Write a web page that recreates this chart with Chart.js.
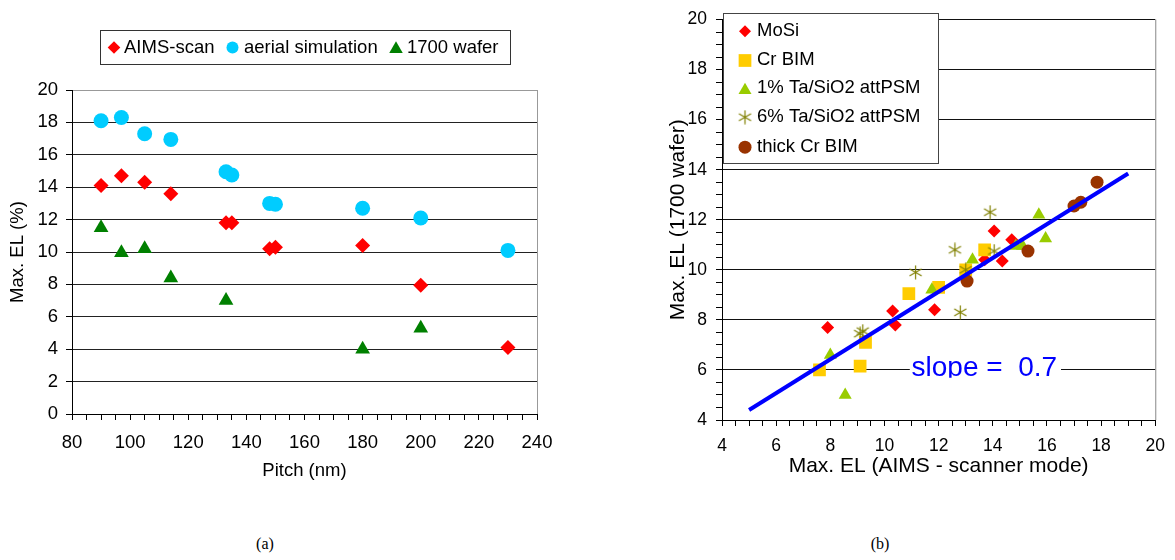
<!DOCTYPE html>
<html>
<head>
<meta charset="utf-8">
<script src="https://cdn.jsdelivr.net/npm/chart.js@4/dist/chart.umd.min.js"></script>
<style>
  body { margin: 0; background: #fff; width: 1175px; height: 560px; position: relative; overflow: hidden; }
  .wrap { position: absolute; top: 0; height: 490px; }
  #wa { left: 0; width: 580px; }
  #wb { left: 655px; width: 520px; }
  .cap { position: absolute; top: 535px; font: 16px "Liberation Serif", "Times New Roman", serif; transform: translateX(-50%); }
</style>
</head>
<body>
<div class="wrap" id="wa"><canvas id="chartA"></canvas></div>
<div class="wrap" id="wb"><canvas id="chartB"></canvas></div>
<div class="cap" style="left:265px">(a)</div>
<div class="cap" style="left:880px">(b)</div>
<script>
// (a) Max. EL vs pitch
const pitch = [90, 97, 105, 114, 133, 135, 148, 150, 180, 200, 230];
const aimsScan = [14.1, 14.7, 14.3, 13.6, 11.8, 11.8, 10.2, 10.3, 10.4, 7.95, 4.1];
const aerialSim = [18.1, 18.3, 17.3, 16.95, 14.95, 14.75, 13.0, 12.95, 12.7, 12.1, 10.1];
const waferPitch = [90, 97, 105, 114, 133, 180, 200];
const wafer1700 = [11.5, 9.95, 10.2, 8.4, 7.0, 4.0, 5.3];

// (b) wafer vs AIMS
const mosiX = [7.9, 10.3, 10.4, 11.85, 13.7, 14.05, 14.35, 14.7];
const mosiY = [7.7, 8.35, 7.8, 8.4, 10.4, 11.55, 10.35, 11.2];
const crBimX = [7.6, 9.1, 9.3, 10.9, 12.0, 13.0, 13.7];
const crBimY = [6.0, 6.15, 7.1, 9.05, 9.3, 10.0, 10.8];
const ta1X = [8.0, 8.55, 11.75, 13.25, 14.85, 15.1, 15.7, 15.95];
const ta1Y = [6.6, 5.0, 9.2, 10.4, 10.95, 10.95, 12.2, 11.25];
const ta6X = [9.1, 9.2, 11.15, 12.6, 12.8, 13.0, 13.9, 14.05];
const ta6Y = [7.45, 7.55, 9.9, 10.8, 8.3, 10.0, 12.3, 10.75];
const thickCrX = [13.05, 15.3, 17.0, 17.25, 17.85];
const thickCrY = [9.55, 10.75, 12.55, 12.7, 13.5];
const fitX = [5, 19];
const fitY = [4.4, 13.85];

const FONT = "'Liberation Sans', Arial, sans-serif";
const pts = (xs, ys) => xs.map((x, i) => ({ x, y: ys[i] }));

// asterisk marker (6 arms)
function makeStar(size, color) {
  const c = document.createElement('canvas');
  c.width = size; c.height = size;
  const g = c.getContext('2d');
  g.strokeStyle = color; g.lineWidth = 1.2;
  const r = size / 2 - 0.5, m = size / 2;
  for (let k = 0; k < 3; k++) {
    const a = k * Math.PI / 3;
    g.beginPath();
    g.moveTo(m + Math.sin(a) * r, m - Math.cos(a) * r);
    g.lineTo(m - Math.sin(a) * r, m + Math.cos(a) * r);
    g.stroke();
  }
  return c;
}
const star = makeStar(15, '#808000');

function marker(ctx, style, radius, color, x, y) {
  ctx.save();
  ctx.fillStyle = color; ctx.strokeStyle = color;
  Chart.helpers.drawPoint(ctx, { pointStyle: style, radius, rotation: 0, borderWidth: 0 }, x, y);
  ctx.restore();
}

// ---------- chart (a)
const legendA = {
  id: 'legendA',
  afterDraw(chart) {
    const ctx = chart.ctx;
    ctx.save();
    ctx.fillStyle = '#fff';
    ctx.fillRect(100, 30, 410, 34);
    ctx.strokeStyle = '#333'; ctx.lineWidth = 1;
    ctx.strokeRect(100.5, 30.5, 410, 34);
    const a = chart.chartArea;
    ctx.strokeStyle = '#999';
    ctx.beginPath(); ctx.moveTo(a.right + 0.5, a.top); ctx.lineTo(a.right + 0.5, a.bottom); ctx.stroke();
    ctx.font = '18.5px ' + FONT; ctx.textBaseline = 'middle';
    const items = [
      ['rectRot', 6.3, '#FF0000', 114, 124, 'AIMS-scan'],
      ['circle', 6, '#00CCFF', 232.5, 244, 'aerial simulation'],
      ['triangle', 7.8, '#008000', 396, 407, '1700 wafer']
    ];
    items.forEach(it => {
      marker(ctx, it[0], it[1], it[2], it[3], it[0] === 'triangle' ? 49 : 47.5);
      ctx.fillStyle = '#000';
      ctx.fillText(it[5], it[4], 47.5);
    });
    ctx.restore();
  }
};

new Chart(document.getElementById('chartA'), {
  type: 'scatter',
  data: {
    datasets: [
      { label: 'AIMS-scan', data: pts(pitch, aimsScan), pointStyle: 'rectRot', pointRadius: 7.5,
        backgroundColor: '#FF0000', borderColor: '#FF0000', borderWidth: 0 },
      { label: 'aerial simulation', data: pts(pitch, aerialSim), pointStyle: 'circle', pointRadius: 7.5,
        backgroundColor: '#00CCFF', borderColor: '#00CCFF', borderWidth: 0 },
      { label: '1700 wafer', data: pts(waferPitch, wafer1700), pointStyle: 'triangle', pointRadius: 8.5,
        backgroundColor: '#008000', borderColor: '#008000', borderWidth: 0 }
    ]
  },
  options: {
    animation: false, responsive: true, maintainAspectRatio: false,
    layout: { padding: { top: 90, right: 43, left: 0, bottom: 0 } },
    plugins: { legend: { display: false }, tooltip: { enabled: false } },
    scales: {
      x: {
        type: 'linear', min: 80, max: 240,
        afterFit: s => { s.height = 76; },
        border: { color: '#000', width: 1 },
        grid: { drawOnChartArea: false, tickLength: 6, tickColor: '#000' },
        ticks: { stepSize: 5, autoSkip: false, maxRotation: 0, padding: 12, color: '#000',
          font: { family: FONT, size: 18.5 },
          callback: v => (v % 20 === 0 ? String(v) : '') },
        title: { display: true, text: 'Pitch (nm)', color: '#000', font: { family: FONT, size: 18.5 },
          padding: { top: 0, bottom: 8 } }
      },
      y: {
        min: 0, max: 20,
        afterFit: s => { s.width = 72; },
        border: { color: '#000', width: 1 },
        grid: { color: c => (c.tick && c.tick.value === 20 ? '#999' : '#222'), tickLength: 6, tickColor: '#000' },
        ticks: { stepSize: 2, padding: 8, color: '#000', font: { family: FONT, size: 18.5 } },
        title: { display: true, text: 'Max. EL (%)', color: '#000', font: { family: FONT, size: 18.5 },
          padding: { top: 7, bottom: 0 } }
      }
    }
  },
  plugins: [legendA]
});

// ---------- chart (b)
const legendB = {
  id: 'legendB',
  afterDraw(chart) {
    const ctx = chart.ctx;
    const a = chart.chartArea;
    ctx.save();
    // right border
    ctx.strokeStyle = '#888'; ctx.lineWidth = 1;
    ctx.beginPath(); ctx.moveTo(a.right + 0.5, a.top); ctx.lineTo(a.right + 0.5, a.bottom); ctx.stroke();
    // legend box
    ctx.fillStyle = '#fff';
    ctx.fillRect(68, 13, 215, 150);
    ctx.strokeStyle = '#444';
    ctx.strokeRect(68.5, 13.5, 215, 150);
    ctx.font = '18.5px ' + FONT; ctx.textBaseline = 'middle';
    const rows = [
      ['rectRot', 6, '#FF0000', 'MoSi'],
      ['rect', 9, '#FFCC00', 'Cr BIM'],
      ['triangle', 7.5, '#99CC00', '1% Ta/SiO2 attPSM'],
      [star, 0, '#808000', '6% Ta/SiO2 attPSM'],
      ['circle', 6.5, '#993300', 'thick Cr BIM']
    ];
    const ys = [30.7, 60, 88.3, 116.7, 146.7];
    rows.forEach((r, i) => {
      marker(ctx, r[0], r[1], r[2], 90, ys[i] + (r[0] === 'triangle' ? 2 : 0.5));
      ctx.fillStyle = '#000';
      ctx.fillText(r[3], 102, ys[i]);
    });
    // slope label (text box with white fill, bottom clipped)
    const xs = chart.scales.x, yS = chart.scales.y;
    const tx = xs.getPixelForValue(11), ty = yS.getPixelForValue(5.75);
    ctx.font = '28px ' + FONT;
    const w = ctx.measureText('slope =  0.7').width;
    ctx.beginPath(); ctx.rect(tx - 2, ty - 28, w + 6, 29.5); ctx.clip();
    ctx.fillStyle = '#fff'; ctx.fillRect(tx - 2, ty - 28, w + 6, 29.5);
    ctx.fillStyle = '#0000FF'; ctx.textBaseline = 'alphabetic';
    ctx.fillText('slope =  0.7', tx, ty);
    ctx.restore();
  }
};

new Chart(document.getElementById('chartB'), {
  type: 'scatter',
  data: {
    datasets: [
      { type: 'line', label: 'fit', data: pts(fitX, fitY), showLine: true, borderColor: '#0000FF',
        borderWidth: 4, pointRadius: 0, fill: false },
      { label: 'thick Cr BIM', data: pts(thickCrX, thickCrY), pointStyle: 'circle', pointRadius: 6.5,
        backgroundColor: '#993300', borderColor: '#993300', borderWidth: 0 },
      { label: '6% Ta/SiO2 attPSM', data: pts(ta6X, ta6Y), pointStyle: star, pointRadius: 7,
        backgroundColor: '#808000', borderColor: '#808000', borderWidth: 0 },
      { label: '1% Ta/SiO2 attPSM', data: pts(ta1X, ta1Y), pointStyle: 'triangle', pointRadius: 7.5,
        backgroundColor: '#99CC00', borderColor: '#99CC00', borderWidth: 0 },
      { label: 'Cr BIM', data: pts(crBimX, crBimY), pointStyle: 'rect', pointRadius: 9,
        backgroundColor: '#FFCC00', borderColor: '#FFCC00', borderWidth: 0 },
      { label: 'MoSi', data: pts(mosiX, mosiY), pointStyle: 'rectRot', pointRadius: 6.5,
        backgroundColor: '#FF0000', borderColor: '#FF0000', borderWidth: 0 }
    ]
  },
  options: {
    animation: false, responsive: true, maintainAspectRatio: false,
    layout: { padding: { top: 14, right: 15, left: 0, bottom: 0 } },
    plugins: { legend: { display: false }, tooltip: { enabled: false } },
    scales: {
      x: {
        type: 'linear', min: 4, max: 20,
        afterFit: s => { s.height = 70; },
        border: { color: '#000', width: 1 },
        grid: { drawOnChartArea: false, tickLength: 6, tickColor: '#000' },
        ticks: { stepSize: 0.5, autoSkip: false, maxRotation: 0, padding: 10, color: '#000',
          font: { family: FONT, size: 17.5 },
          callback: v => (v % 2 === 0 ? String(v) : '') },
        title: { display: true, text: 'Max. EL (AIMS - scanner mode)', color: '#000',
          font: { family: FONT, size: 21 }, padding: { top: 0, bottom: 11 } }
      },
      y: {
        type: 'linear', min: 4, max: 20,
        afterFit: s => { s.width = 67; },
        border: { color: '#000', width: 1 },
        grid: { color: c => (c.tick && c.tick.value % 2 === 0 ? '#111' : 'rgba(0,0,0,0)'),
          tickLength: 6, tickColor: '#000' },
        ticks: { stepSize: 0.5, autoSkip: false, padding: 9, color: '#000', font: { family: FONT, size: 17.5 },
          callback: v => (v % 2 === 0 ? String(v) : '') },
        title: { display: true, text: 'Max. EL (1700 wafer)', color: '#000', font: { family: FONT, size: 21 },
          padding: { top: 11, bottom: 0 } }
      }
    }
  },
  plugins: [legendB]
});
</script>
</body>
</html>
